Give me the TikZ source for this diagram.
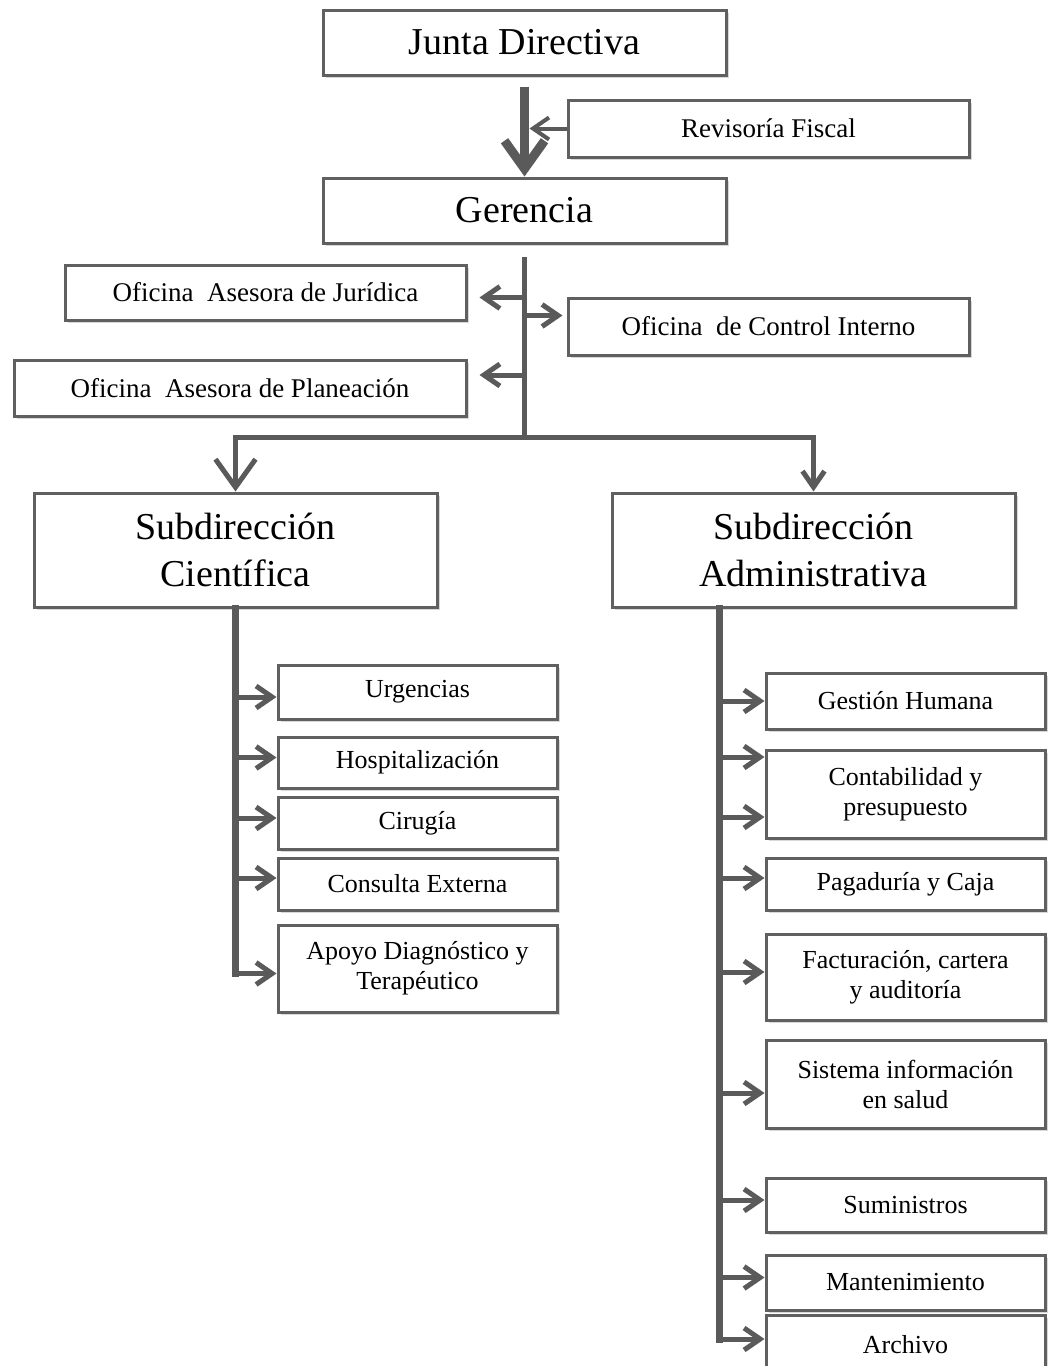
\documentclass[tikz,border=0pt]{standalone}
\usepackage{fontspec}
\setmainfont{Liberation Serif}
\usetikzlibrary{arrows.meta,shadows}
\definecolor{linegray}{HTML}{5A5A5A}
\definecolor{boxgray}{HTML}{606060}

\begin{document}
\begin{tikzpicture}[x=0.5pt, y=-0.5pt,
    box/.style={draw=boxgray, line width=1.5pt, fill=white, inner sep=2pt, align=center,
        drop shadow={shadow xshift=1.5pt, shadow yshift=-1.5pt, opacity=0.3}},
    big/.style={box, minimum width=201.5pt, font=\fontsize{19}{23.5}\selectfont},
    side/.style={box, minimum width=200.5pt, font=\fontsize{13.5}{16}\selectfont},
    small/.style={box, minimum width=139.5pt, font=\fontsize{13}{15}\selectfont},
    link/.style={draw=linegray, line width=2.5pt, -{Straight Barb[length=8pt,width=11pt]}},
    bigarrow/.style={draw=linegray, line width=4.5pt, -{Straight Barb[length=14pt,width=20pt]}},
    trunk/.style={draw=linegray, line width=3.5pt}]
    \useasboundingbox (0,0) rectangle (1049,1366);
    \fill[white] (0,0) rectangle (1049,1366);

    % Top
    \node[big, minimum height=32.5pt] (jd) at (524.5,42.5) {Junta Directiva};
    \node[side, minimum height=28.5pt] (rf) at (768.5,128.5) {Revisoría Fiscal};
    \node[big, minimum height=32.5pt] (ger) at (524.5,210.5) {Gerencia};

    % Oficinas
    \node[side, minimum height=27.5pt] (ofj) at (265.5,292.5) {Oficina\ \ Asesora de Jurídica};
    \node[side, minimum height=28.5pt] (oci) at (768.5,326.5) {Oficina\ \ de Control Interno};
    \node[side, minimum width=226pt, minimum height=28pt] (ofp) at (240,388) {Oficina\ \ Asesora de Planeación};

    % Subdirecciones
    \node[big, minimum height=57pt] (subc) at (235.5,550) {Subdirección\\Científica};
    \node[big, minimum height=57pt] (suba) at (813.5,550) {Subdirección\\Administrativa};

    % Subdireccion cientifica
    \node[small, minimum height=27pt] (urg) at (417.5,692) {Urgencias};
    \node[small, minimum height=25.5pt] (hosp) at (417.5,762.5) {Hospitalización};
    \node[small, minimum height=26pt] (cir) at (417.5,823) {Cirugía};
    \node[small, minimum height=26pt] (ce) at (417.5,884) {Consulta Externa};
    \node[small, minimum height=43.5pt] (apoyo) at (417.5,968.5) {Apoyo Diagnóstico y\\Terapéutico};

    % Subdireccion administrativa
    \node[small, minimum height=28pt] (gh) at (905.5,701) {Gestión Humana};
    \node[small, minimum height=44pt] (cont) at (905.5,794) {Contabilidad y\\presupuesto};
    \node[small, minimum height=26pt] (pag) at (905.5,884) {Pagaduría y Caja};
    \node[small, minimum height=43pt] (fact) at (905.5,977) {Facturación, cartera\\y auditoría};
    \node[small, minimum height=44pt] (sis) at (905.5,1084) {Sistema información\\en salud};
    \node[small, minimum height=27pt] (sum) at (905.5,1205) {Suministros};
    \node[small, minimum height=27.5pt] (mant) at (905.5,1282.5) {Mantenimiento};
    \node[small, minimum height=30pt] (arch) at (905.5,1345) {Archivo};

    % Connectors top
    \draw[bigarrow] ([yshift=-5pt]jd.south) -- (ger.north);
    \draw[link, line width=2pt] (rf.west) -- ([xshift=2.5pt]rf.west -| jd.south);
    \coordinate (gfork) at (524.5,437);
    \draw[trunk, line width=2.5pt] ([yshift=-6pt]ger.south) -- (gfork);
    \draw[link, shorten >=6pt] ([yshift=-2.5pt]ofj.east -| ger.south) -- ([yshift=-2.5pt]ofj.east);
    \draw[link, shorten >=2pt] ([yshift=5.5pt]oci.west -| ger.south) -- ([yshift=5.5pt]oci.west);
    \draw[link, shorten >=6pt] ([yshift=6.5pt]ofp.east -| ger.south) -- ([yshift=6.5pt]ofp.east);
    \draw[bigarrow, line width=2.5pt] (gfork) -| (subc.north);
    \draw[link] (gfork) -| (suba.north);

    % Connectors cientifica
    \coordinate (cend) at ([yshift=-2.5pt]apoyo.west -| subc.south);
    \draw[trunk, line cap=rect] (subc.south) -- (cend);
    \draw[link] ([yshift=-2.5pt]urg.west -| subc.south) -- ([yshift=-2.5pt]urg.west);
    \draw[link] ([yshift=2.5pt]hosp.west -| subc.south) -- ([yshift=2.5pt]hosp.west);
    \draw[link] ([yshift=2.5pt]cir.west -| subc.south) -- ([yshift=2.5pt]cir.west);
    \draw[link] ([yshift=3pt]ce.west -| subc.south) -- ([yshift=3pt]ce.west);
    \draw[link] (cend) -- ([yshift=-2.5pt]apoyo.west);

    % Connectors administrativa
    \coordinate (atop) at ([xshift=54.5pt]suba.south west);
    \coordinate (aend) at ([yshift=3pt]arch.west -| atop);
    \draw[trunk, line cap=rect] (atop) -- (aend);
    \draw[link] (gh.west -| atop) -- (gh.west);
    \draw[link] ([yshift=18.5pt]cont.west -| atop) -- ([yshift=18.5pt]cont.west);
    \draw[link] ([yshift=-11.5pt]cont.west -| atop) -- ([yshift=-11.5pt]cont.west);
    \draw[link] ([yshift=3pt]pag.west -| atop) -- ([yshift=3pt]pag.west);
    \draw[link] ([yshift=2.5pt]fact.west -| atop) -- ([yshift=2.5pt]fact.west);
    \draw[link] ([yshift=-4.5pt]sis.west -| atop) -- ([yshift=-4.5pt]sis.west);
    \draw[link] ([yshift=2.5pt]sum.west -| atop) -- ([yshift=2.5pt]sum.west);
    \draw[link] ([yshift=2.5pt]mant.west -| atop) -- ([yshift=2.5pt]mant.west);
    \draw[link] (aend) -- ([yshift=3pt]arch.west);

\end{tikzpicture}
\end{document}
